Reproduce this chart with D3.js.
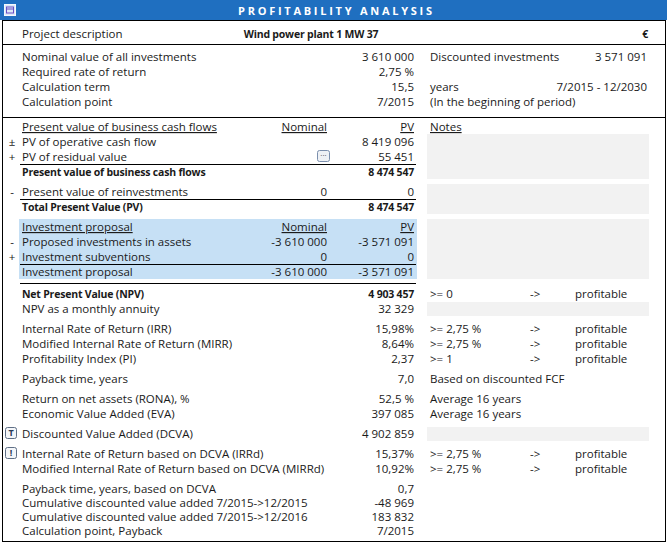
<!DOCTYPE html>
<html>
<head>
<meta charset="utf-8">
<script src="https://cdn.jsdelivr.net/npm/d3@7"></script>
<style>
  body { margin: 0; background: #fff; }
  svg { font-family: "Open Sans", Lato, sans-serif; font-size: 11.5px; }
  .strong { font-weight: bold; font-size: 10.5px; letter-spacing: -0.2px; }
</style>
</head>
<body>
<div id="container"></div>
<script>
/* DATA */
const title = "PROFITABILITY ANALYSIS";
const projectRow = ["Project description", "Wind power plant 1 MW 37", "€"];

const inputLabels = ["Nominal value of all investments", "Required rate of return", "Calculation term", "Calculation point"];
const inputValues = ["3 610 000", "2,75 %", "15,5", "7/2015"];
const inputNotes = ["Discounted investments", "", "years", "(In the beginning of period)"];
const inputNotesRight = ["3 571 091", "", "7/2015 - 12/2030", ""];

const pvSigns = ["", "±", "+", "", "-", ""];
const pvLabels = ["Present value of business cash flows", "PV of operative cash flow", "PV of residual value",
  "Present value of business cash flows", "Present value of reinvestments", "Total Present Value (PV)"];
const pvNominal = ["Nominal", "", "", "", "0", ""];
const pvValues = ["PV", "8 419 096", "55 451", "8 474 547", "0", "8 474 547"];
const pvGroups = [0, 0, 0, 0, 1, 1];

const invSigns = ["", "-", "+", ""];
const invLabels = ["Investment proposal", "Proposed investments in assets", "Investment subventions", "Investment proposal"];
const invNominal = ["Nominal", "-3 610 000", "0", "-3 610 000"];
const invValues = ["PV", "-3 571 091", "0", "-3 571 091"];

const resLabels = ["Net Present Value (NPV)", "NPV as a monthly annuity",
  "Internal Rate of Return (IRR)", "Modified Internal Rate of Return (MIRR)", "Profitability Index (PI)",
  "Payback time, years",
  "Return on net assets (RONA), %", "Economic Value Added (EVA)",
  "Discounted Value Added (DCVA)",
  "Internal Rate of Return based on DCVA (IRRd)", "Modified Internal Rate of Return based on DCVA (MIRRd)",
  "Payback time, years, based on DCVA", "Cumulative discounted value added 7/2015->12/2015",
  "Cumulative discounted value added 7/2015->12/2016", "Calculation point, Payback"];
const resValues = ["4 903 457", "32 329", "15,98%", "8,64%", "2,37", "7,0", "52,5 %", "397 085", "4 902 859",
  "15,37%", "10,92%", "0,7", "-48 969", "183 832", "7/2015"];
const resCriteria = [">= 0", "", ">= 2,75 %", ">= 2,75 %", ">= 1", "Based on discounted FCF", "Average 16 years",
  "Average 16 years", "", ">= 2,75 %", ">= 2,75 %", "", "", "", ""];
const resVerdict = ["profitable", "", "profitable", "profitable", "profitable", "", "", "", "",
  "profitable", "profitable", "", "", "", ""];
const resGroups = [0, 0, 1, 1, 1, 2, 3, 3, 4, 5, 5, 6, 6, 6, 6];
const noteFields = ["NPV as a monthly annuity", "Discounted Value Added (DCVA)"];
const rowIcons = { "Discounted Value Added (DCVA)": "T", "Internal Rate of Return based on DCVA (IRRd)": "!" };

/* LAYOUT */
const width = 670, height = 544;
const ink = "#1a1a1a", blue = "#1f6fc0", lightBlue = "#c6e0f5", noteGray = "#f2f2f2";

const col = d3.scaleOrdinal()
  .domain(["sign", "label", "nominal", "value", "note", "arrow", "verdict", "end"])
  .range([12, 22, 327, 414, 430, 530, 575, 647]);

// row positions: fixed step inside a group, extra gap between groups
function rowScale(groups, start, step, gap, tightGroup) {
  let y = start;
  const ys = groups.map((g, i) => {
    if (i > 0) y += g === groups[i - 1] ? (g === tightGroup ? step - 1 : step) : step + gap;
    return y;
  });
  return d3.scaleOrdinal().domain(d3.range(groups.length)).range(ys);
}

const yInput = rowScale(inputLabels.map(() => 0), 57, 15, 5);
const yPV = rowScale(pvGroups, 127, 15, 5);
const yInv = rowScale(invLabels.map(() => 0), 227, 15, 5);
const yRes = rowScale(resGroups, 294, 15, 5, 6);

const svg = d3.select("#container").append("svg")
  .attr("width", width)
  .attr("height", height);

function text(g, x, y, s, anchor, bold, underline, fill) {
  return g.append("text")
    .attr("x", x).attr("y", y).attr("dy", "0.35em")
    .attr("class", bold ? "strong" : null)
    .attr("text-anchor", anchor || "start")
    .attr("fill", fill || ink)
    .style("text-decoration", underline ? "underline" : null)
    .text(s);
}

function hline(y, x1, x2) {
  svg.append("line").attr("x1", x1).attr("x2", x2).attr("y1", y).attr("y2", y)
    .attr("stroke", "#000").attr("stroke-width", 1);
}

/* HEADER */
svg.append("rect").attr("x", 0).attr("y", 0).attr("width", 667).attr("height", 20).attr("fill", blue);
svg.append("rect").attr("x", 4.5).attr("y", 4.5).attr("width", 11).attr("height", 11)
  .attr("fill", "#dbe8f8").attr("stroke", "#f4f8fd");
svg.append("rect").attr("x", 6.5).attr("y", 7).attr("width", 7).attr("height", 6)
  .attr("fill", "none").attr("stroke", "#6a4fc4").attr("stroke-width", 1);
svg.append("line").attr("x1", 6.5).attr("x2", 13.5).attr("y1", 9).attr("y2", 9).attr("stroke", "#6a4fc4");
text(svg, 335, 11, title, "middle", false, false, "#fff")
  .style("font-weight", "bold").style("font-size", "11px")
  .attr("textLength", 194).attr("lengthAdjust", "spacing");

// outer frame
svg.append("rect").attr("x", 2.5).attr("y", 20.5).attr("width", 663).attr("height", 521)
  .attr("fill", "none").attr("stroke", "#000");
hline(44.5, 2, 666);
hline(117.5, 2, 666);

text(svg, col("label"), 34, projectRow[0]);
text(svg, 311, 34, projectRow[1], "middle", true);
text(svg, 648, 34, projectRow[2], "end", true);

/* INPUTS */
const gIn = svg.append("g");
inputLabels.forEach((d, i) => {
  text(gIn, col("label"), yInput(i), d);
  text(gIn, col("value"), yInput(i), inputValues[i], "end");
  if (inputNotes[i]) text(gIn, col("note"), yInput(i), inputNotes[i]);
  if (inputNotesRight[i]) text(gIn, col("end"), yInput(i), inputNotesRight[i], "end");
});

/* NOTES BOXES */
function noteBox(y1, y2) {
  svg.append("rect").attr("x", 427).attr("y", y1).attr("width", 222).attr("height", y2 - y1).attr("fill", noteGray);
}
noteBox(yPV(1) - 8, yPV(3) + 7);
noteBox(yPV(4) - 8, yPV(5) + 7);
noteBox(yInv(0) - 8, yInv(3) + 7);
resLabels.forEach((d, i) => { if (noteFields.includes(d)) noteBox(yRes(i) - 7, yRes(i) + 7); });

/* PRESENT VALUE SECTION */
const gPV = svg.append("g");
pvLabels.forEach((d, i) => {
  const head = i === 0, bold = i === 3 || i === 5;
  if (pvSigns[i]) text(gPV, col("sign"), yPV(i), pvSigns[i], "middle");
  text(gPV, col("label"), yPV(i), d, "start", bold, head);
  if (pvNominal[i]) text(gPV, col("nominal"), yPV(i), pvNominal[i], "end", false, head);
  text(gPV, col("value"), yPV(i), pvValues[i], "end", bold, head);
});
text(gPV, col("note"), yPV(0), "Notes", "start", false, true);
hline(yPV(2) + 7.5, 20, 416);
hline(yPV(4) + 7.5, 20, 416);

// "..." button on residual value row
svg.append("rect").attr("x", 317.5).attr("y", yPV(2) - 6.5).attr("width", 12).attr("height", 11).attr("rx", 2)
  .attr("fill", "#eef1f5").attr("stroke", "#7b8fad");
text(svg, 323.5, yPV(2) - 2, "···", "middle").style("font-size", "8px").attr("fill", "#333");

/* INVESTMENT PROPOSAL */
svg.append("rect").attr("x", 19).attr("y", yInv(0) - 8).attr("width", 398).attr("height", yInv(3) - yInv(0) + 15)
  .attr("fill", lightBlue);
const gInv = svg.append("g");
invLabels.forEach((d, i) => {
  const head = i === 0;
  if (invSigns[i]) text(gInv, col("sign"), yInv(i), invSigns[i], "middle");
  text(gInv, col("label"), yInv(i), d, "start", false, head);
  text(gInv, col("nominal"), yInv(i), invNominal[i], "end", false, head);
  text(gInv, col("value"), yInv(i), invValues[i], "end", false, head);
});
hline(yInv(2) + 7.5, 20, 416);
hline((yInv(3) + yRes(0)) / 2 + 0.5, 20, 416);

/* RESULTS */
const gRes = svg.append("g");
resLabels.forEach((d, i) => {
  const bold = i === 0;
  text(gRes, col("label"), yRes(i), d, "start", bold);
  text(gRes, col("value"), yRes(i), resValues[i], "end", bold);
  if (resCriteria[i]) text(gRes, col("note"), yRes(i), resCriteria[i]);
  if (resVerdict[i]) {
    text(gRes, col("arrow"), yRes(i), "->");
    text(gRes, col("verdict"), yRes(i), resVerdict[i]);
  }
  if (rowIcons[d]) {
    svg.append("rect").attr("x", 5.5).attr("y", yRes(i) - 6.5).attr("width", 11).attr("height", 11).attr("rx", 2)
      .attr("fill", "#f4f6f9").attr("stroke", "#5f6f86");
    text(svg, 11, yRes(i) - 1, rowIcons[d], "middle").style("font-weight", "bold")
      .style("font-size", "9px").attr("fill", "#2b3a55");
  }
});
</script>
</body>
</html>
